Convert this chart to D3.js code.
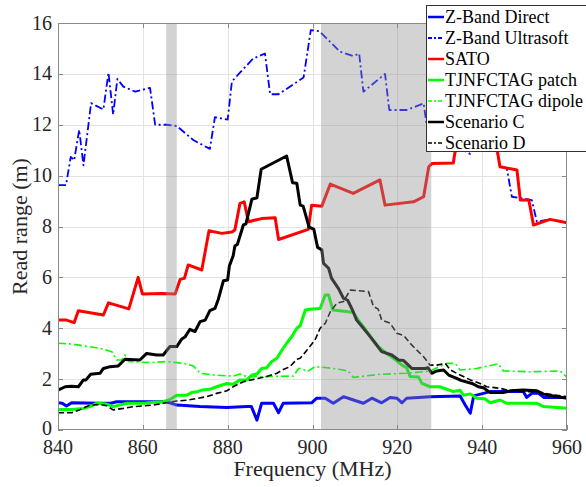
<!DOCTYPE html>
<html>
<head>
<meta charset="utf-8">
<script src="https://cdn.jsdelivr.net/npm/d3@7"></script>
<style>
  html, body { margin: 0; padding: 0; background: #fff; }
</style>
</head>
<body>
<div id="chart"></div>
<script>
// ---- data: [frequency MHz, read range m] ----
const zBandDirect = [[840,1.07],[841,1.05],[842,0.94],[843.2,1.07],[849.9,1.05],[852.5,1.05],[853.8,1.11],[865.6,1.11],[868,0.98],[873.5,0.92],[879.8,0.88],[884.5,0.92],[885.6,0.92],[886.9,0.39],[888,1.05],[890.8,1.05],[892,0.68],[893.1,1.05],[899.8,1.07],[901,1.25],[903,1.25],[904.9,1.05],[907.3,1.31],[909.3,1.2],[912,1.05],[914,1.25],[916.3,1.07],[918.3,1.28],[919.9,1.25],[921.1,1.07],[922.2,1.25],[927.7,1.31],[934.8,1.34],[936,0.98],[937.2,0.66],[938,1.34],[941.9,1.51],[949.7,1.51],[950.5,1.28],[951.7,1.44],[953.3,1.44],[954.5,1.28],[960,1.28]];

const zBandUltrasoft = [[840,9.63],[841.9,9.63],[843,10.74],[843.8,10.6],[845,11.8],[846,10.4],[847.8,12.85],[850.7,12.6],[851.9,14.05],[853,12.4],[854,13.8],[855.4,13.5],[858.2,13.3],[861.7,13.45],[862.9,12.0],[865.6,12.0],[868,11.95],[871.9,11.4],[875.8,11.05],[877,12.3],[880,12.2],[881,13.7],[882.9,14.05],[886,14.6],[888.8,14.8],[890,13.2],[892,13.2],[897.9,13.86],[899.6,15.72],[901.6,15.68],[906.5,14.87],[909.6,14.7],[911,14.8],[912,13.3],[917.1,14.0],[918.1,12.58],[922.2,12.58],[926.2,12.84],[927.5,11.3],[932,11.3],[937.2,10.85],[939,11.3],[943.6,10.9],[944.2,10.38],[945.8,10.3],[947,9.17],[951.7,9.04],[952.9,8.19],[956,8.28],[960,8.15]];

const sato = [[840,4.32],[842,4.32],[843.8,4.22],[844.8,4.69],[850.7,4.52],[851.9,5.0],[856.7,4.76],[858.9,6.0],[859.9,5.35],[864.5,5.37],[867.6,5.35],[868.8,5.92],[869.8,5.96],[870.7,6.49],[873.9,6.29],[875.6,7.83],[878.6,7.73],[881,7.78],[881.7,7.86],[882.9,8.91],[883.9,8.97],[884.9,8.19],[888,8.31],[891.2,8.34],[892,7.49],[899,7.89],[899.8,8.84],[902.2,8.8],[904.2,9.67],[909.6,9.3],[915.9,9.83],[917.1,8.84],[923.8,8.97],[926.2,9.17],[927.4,10.35],[928.2,10.48],[933.2,10.5],[933.6,10.94],[936,11.2],[941,11.2],[943.6,10.95],[944.2,10.35],[948.2,10.22],[949,9.04],[951,9.04],[952.1,8.06],[956,8.28],[960,8.15]];

const tjPatch = [[840,0.81],[843.2,0.81],[846,0.85],[847.5,0.92],[849.1,1.05],[851.5,1.02],[853,0.92],[856.2,1.05],[860.3,1.05],[862.5,1.09],[864.8,1.11],[866.4,1.2],[868,1.37],[870.4,1.37],[871.5,1.47],[872.7,1.5],[873.9,1.57],[875.8,1.6],[877.4,1.7],[879.8,1.83],[881.3,1.8],[882.9,1.97],[884.5,1.97],[885.7,2.16],[886.9,2.2],[888,2.42],[889.2,2.45],[890.4,2.69],[891.6,2.82],[892.8,3.14],[893.9,3.41],[895.1,3.67],[896.3,4.0],[897.1,4.1],[898.3,4.72],[899.4,4.75],[901.8,4.78],[903,5.31],[903.8,5.31],[904.8,4.72],[908.5,4.65],[909.6,4.62],[910.8,4.32],[912,4.06],[914,3.6],[915.5,3.28],[917.5,3.01],[919.1,2.82],[921.1,2.55],[922.2,2.45],[923,2.1],[925,2.08],[925.8,1.83],[927.7,1.7],[930,1.7],[933.2,1.51],[934.8,1.56],[935.6,1.37],[937.2,1.42],[938.7,1.25],[940.6,1.23],[941.9,1.07],[944.2,1.18],[945.8,1.05],[952.9,1.05],[954.5,0.92],[960,0.85]];

const tjDipole = [[840,3.41],[843.2,3.38],[849.9,3.21],[852.7,3.08],[853.8,2.75],[855,2.75],[855.8,2.95],[856.6,2.69],[861.7,2.65],[865.6,2.69],[869.6,2.62],[871.9,2.52],[873.5,2.23],[876.6,2.16],[881.3,2.12],[882.9,2.2],[884.5,2.1],[889.2,2.1],[895.5,2.12],[896.7,2.42],[897.5,2.42],[898.7,2.29],[900.6,2.49],[903.4,2.45],[907.3,2.36],[908.5,2.3],[909.6,2.07],[915.9,2.19],[922.2,2.23],[927.7,2.32],[931.6,2.62],[933.6,2.62],[934.8,2.36],[938.7,2.42],[943.8,2.6],[945,2.32],[951.3,2.29],[958.4,2.32],[960,2.07]];

const scenarioC = [[840,1.57],[841.7,1.7],[843.2,1.72],[844.8,1.7],[846,1.97],[846.6,1.97],[847.7,2.19],[849.9,2.23],[850.7,2.42],[852.3,2.49],[854.2,2.52],[855.8,2.78],[859.3,2.75],[860.9,3.01],[863.3,2.95],[864.8,2.95],[866.4,3.28],[868,3.28],[869.2,3.58],[870,3.67],[871.1,3.96],[872.3,3.87],[873.5,4.26],[874.7,4.32],[875.8,4.69],[877,4.78],[877.8,5.14],[879,5.87],[880,5.9],[880.4,6.45],[881.3,6.85],[881.7,7.23],[882.3,7.3],[883.7,8.06],[884.3,8.1],[885.7,9.07],[886.9,9.13],[887.9,10.25],[893.9,10.77],[895.3,9.72],[896.3,9.7],[897.1,8.84],[897.8,8.8],[899.2,7.97],[900.3,7.9],[901.2,7.18],[902.2,7.08],[902.6,6.55],[903.8,6.36],[904.5,5.96],[906.1,5.57],[907.3,5.18],[908.3,5.1],[909.6,4.65],[910.4,4.32],[912,4.0],[913.6,3.67],[914.8,3.41],[916.3,3.08],[918.7,2.95],[920.3,2.75],[921.5,2.73],[923.4,2.42],[926.6,2.42],[927.2,2.45],[928.1,2.23],[929.3,2.32],[930.9,2.36],[932.1,2.16],[934,2.03],[935,1.95],[937.6,1.83],[939.1,1.7],[940.3,1.66],[941.9,1.47],[945,1.47],[946.6,1.54],[949.7,1.57],[952.9,1.54],[954.5,1.41],[956.8,1.34],[960,1.25]];

const scenarioD = [[840,0.68],[843.2,0.68],[845.2,0.8],[847.5,0.98],[849.9,1.0],[851.5,0.95],[853,0.79],[855.4,0.85],[857.8,0.92],[860.3,0.95],[862.5,0.98],[864.8,1.05],[868,1.14],[870.4,1.17],[872.7,1.24],[875.1,1.31],[877.4,1.44],[879.8,1.54],[881.3,1.7],[883.7,1.9],[886.1,1.99],[889.2,2.1],[891.6,2.23],[893.1,2.38],[894.7,2.49],[896.3,2.78],[897.1,2.82],[898.7,3.14],[900.6,3.54],[901.8,4.0],[903,4.19],[904.2,4.65],[905.7,4.98],[907.3,5.05],[908.9,5.5],[913.2,5.44],[914.4,4.85],[915.5,4.75],[916.3,4.32],[918.3,4.2],[919.9,3.8],[921.5,3.72],[923,3.41],[924.6,3.14],[926.2,2.88],[927.7,2.55],[929.3,2.55],[931.3,2.62],[932.5,2.36],[934.8,2.16],[937.2,1.97],[939.5,1.83],[941.1,1.7],[944.2,1.64],[946.6,1.54],[949.7,1.51],[952.9,1.51],[955.6,1.41],[960,1.31]];

// shaded bands (MHz)
const bands = [[865.5, 868], [902, 928]];

const xTicks = [840, 860, 880, 900, 920, 940, 960];
const yTicks = [0, 2, 4, 6, 8, 10, 12, 14, 16];

const seriesNames = ["Z-Band Direct", "Z-Band Ultrasoft", "SATO", "TJNFCTAG patch", "TJNFCTAG dipole", "Scenario C", "Scenario D"];
const seriesData = [zBandDirect, zBandUltrasoft, sato, tjPatch, tjDipole, scenarioC, scenarioD];
const seriesColor = ["#0000ff", "#0000ff", "#ff0000", "#00ff00", "#00ff00", "#000000", "#000000"];
const seriesWidth = [3, 1.8, 3, 3, 1.6, 3, 1.6];
const seriesDash = [null, "8,3,2,3", null, null, "8,3,2,3", null, "6,3"];

const FONT = "'Liberation Serif', 'Times New Roman', Times, serif";

// ---- layout ----
const W = 586, H = 487;
const M = { left: 58, right: 567, top: 23, bottom: 430 };

const x = d3.scaleLinear().domain([840, 960]).range([M.left, M.right]);
const y = d3.scaleLinear().domain([0, 16]).range([M.bottom, M.top]);

const svg = d3.select('#chart').append('svg')
  .attr('width', W).attr('height', H)
  .attr('font-family', FONT);

svg.append('defs').append('clipPath').attr('id', 'plot')
  .append('rect')
  .attr('x', M.left).attr('y', M.top)
  .attr('width', M.right - M.left).attr('height', M.bottom - M.top);

// grid
const grid = svg.append('g').attr('stroke', '#e3e3e3').attr('stroke-width', 1);
grid.selectAll('.gx').data(xTicks.slice(1, -1)).join('line')
  .attr('x1', d => Math.round(x(d)) + 0.5).attr('x2', d => Math.round(x(d)) + 0.5)
  .attr('y1', M.top).attr('y2', M.bottom);
grid.selectAll('.gy').data(yTicks.slice(1, -1)).join('line')
  .attr('y1', d => Math.round(y(d)) + 0.5).attr('y2', d => Math.round(y(d)) + 0.5)
  .attr('x1', M.left).attr('x2', M.right);

// lines
const line = d3.line().x(d => x(d[0])).y(d => y(d[1]));
const lines = svg.append('g').attr('clip-path', 'url(#plot)').attr('fill', 'none');
seriesData.forEach((data, i) => {
  lines.append('path')
    .attr('d', line(data))
    .attr('stroke', seriesColor[i])
    .attr('stroke-width', seriesWidth[i])
    .attr('stroke-dasharray', seriesDash[i])
    .attr('stroke-linejoin', 'round');
});

// translucent bands on top of the lines
svg.append('g').selectAll('rect').data(bands).join('rect')
  .attr('x', d => x(d[0])).attr('width', d => x(d[1]) - x(d[0]))
  .attr('y', M.top).attr('height', M.bottom - M.top)
  .attr('fill', 'rgb(145,145,145)').attr('fill-opacity', 0.4);

// axes box + inward ticks
const ax = svg.append('g').attr('stroke', '#8a8a8a').attr('stroke-width', 1).attr('fill', 'none');
ax.append('rect')
  .attr('x', M.left + 0.5).attr('y', M.top + 0.5)
  .attr('width', M.right - M.left - 1).attr('height', M.bottom - M.top - 1);
xTicks.forEach(t => {
  const px = Math.round(x(t)) + 0.5;
  ax.append('line').attr('x1', px).attr('x2', px).attr('y1', M.bottom).attr('y2', M.bottom - 5);
  ax.append('line').attr('x1', px).attr('x2', px).attr('y1', M.top).attr('y2', M.top + 5);
});
yTicks.forEach(t => {
  const py = Math.round(y(t)) + 0.5;
  ax.append('line').attr('y1', py).attr('y2', py).attr('x1', M.left).attr('x2', M.left + 5);
  ax.append('line').attr('y1', py).attr('y2', py).attr('x1', M.right).attr('x2', M.right - 5);
});

// tick labels
svg.append('g').selectAll('text').data(xTicks).join('text')
  .attr('x', d => x(d)).attr('y', M.bottom + 24)
  .attr('text-anchor', 'middle').attr('font-size', 20).attr('fill', '#262626')
  .text(d => d);
svg.append('g').selectAll('text').data(yTicks).join('text')
  .attr('x', M.left - 6).attr('y', d => y(d)).attr('dy', d => d === 0 ? '0.25em' : '0.33em')
  .attr('text-anchor', 'end').attr('font-size', 20).attr('fill', '#262626')
  .text(d => d);

// axis titles
svg.append('text')
  .attr('x', (M.left + M.right) / 2).attr('y', 476)
  .attr('text-anchor', 'middle').attr('font-size', 22).attr('fill', '#262626')
  .text('Frequency (MHz)');
svg.append('text')
  .attr('transform', `translate(27, ${(M.top + M.bottom) / 2}) rotate(-90)`)
  .attr('text-anchor', 'middle').attr('font-size', 22).attr('fill', '#262626')
  .text('Read range (m)');

// legend
const lg = svg.append('g');
lg.append('rect')
  .attr('x', 426.5).attr('y', 5.5).attr('width', 175).attr('height', 146)
  .attr('fill', '#fff').attr('stroke', '#333').attr('stroke-width', 1);
seriesNames.forEach((name, i) => {
  const cy = 17 + i * 21;
  lg.append('line')
    .attr('x1', 428).attr('x2', 444).attr('y1', cy).attr('y2', cy)
    .attr('stroke', seriesColor[i])
    .attr('stroke-width', Math.min(seriesWidth[i], 2.5))
    .attr('stroke-dasharray', seriesDash[i] ? '4,2,2,2' : null);
  lg.append('text')
    .attr('x', 445).attr('y', cy).attr('dy', '0.33em')
    .attr('font-size', 18).attr('fill', '#000')
    .text(name);
});
</script>
</body>
</html>
